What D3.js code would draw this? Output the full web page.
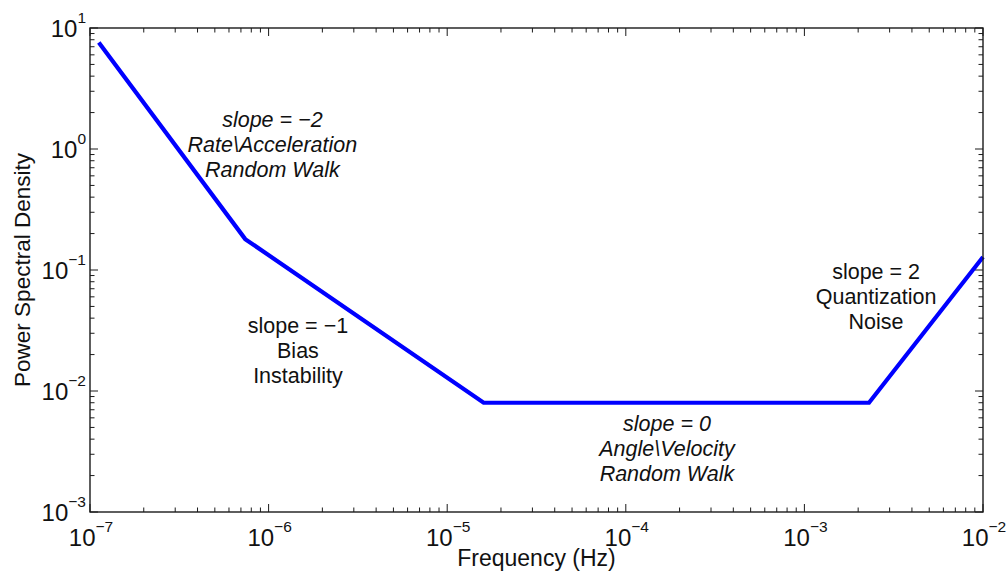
<!DOCTYPE html>
<html>
<head>
<meta charset="utf-8">
<script src="https://cdn.jsdelivr.net/npm/d3@7"></script>
<style>
  html, body { margin: 0; padding: 0; background: #fff; }
  svg { display: block; font-family: "Liberation Sans", Arial, Helvetica, sans-serif; }
</style>
</head>
<body>
<svg id="chart" width="1008" height="574"></svg>
<script>
// Piecewise Allan-style noise PSD (log-log corner points)
const freq = [1.12e-7, 7.4e-7, 1.6e-5, 2.3e-3, 1e-2];
const psd  = [7.6, 0.18, 0.008, 0.008, 0.128];

// Axis decades
const xTickExps = [-7, -6, -5, -4, -3, -2];
const yTickExps = [-3, -2, -1, 0, 1];

// Region annotations: anchor (first line baseline, centred) in data units
const noteFreq   = [1.05e-6, 1.46e-6, 1.70e-4, 2.52e-3];
const notePsd    = [1.52, 0.0301, 0.00467, 0.0844];
const noteItalic = [true, false, true, false];
const noteLines  = [
  ["slope = \u22122", "Rate\\Acceleration", "Random Walk"],
  ["slope = \u22121", "Bias", "Instability"],
  ["slope = 0", "Angle\\Velocity", "Random Walk"],
  ["slope = 2", "Quantization", "Noise"]
];

const svg = d3.select("#chart");
const margin = { left: 90, right: 25, top: 28, bottom: 62 };
const W = 1008, H = 574;
const x = d3.scaleLog().domain([1e-7, 1e-2]).range([margin.left, W - margin.right]);
const y = d3.scaleLog().domain([1e-3, 1e1]).range([H - margin.bottom, margin.top]);
const [x0, x1] = x.range();
const [y0, y1] = y.range();

// Tick positions: majors at decades, minors at 2..9 within each decade
const majorX = xTickExps.map(e => Math.pow(10, e));
const majorY = yTickExps.map(e => Math.pow(10, e));
function minors(exps) {
  const out = [];
  for (let i = 0; i < exps.length - 1; i++)
    for (let k = 2; k <= 9; k++) out.push(k * Math.pow(10, exps[i]));
  return out;
}
const minorX = minors(xTickExps);
const minorY = minors(yTickExps);

const majLen = 8, minLen = 4.5;
const tickG = svg.append("g").attr("stroke", "#1a1a1a").attr("stroke-width", 1);

// inward ticks on bottom and top
[[majorX, majLen], [minorX, minLen]].forEach(([vals, len]) => {
  tickG.selectAll(null).data(vals).enter().append("line")
    .attr("x1", d => x(d)).attr("x2", d => x(d))
    .attr("y1", y0).attr("y2", y0 - len);
  tickG.selectAll(null).data(vals).enter().append("line")
    .attr("x1", d => x(d)).attr("x2", d => x(d))
    .attr("y1", y1).attr("y2", y1 + len);
});
// inward ticks on left and right
[[majorY, majLen], [minorY, minLen]].forEach(([vals, len]) => {
  tickG.selectAll(null).data(vals).enter().append("line")
    .attr("y1", d => y(d)).attr("y2", d => y(d))
    .attr("x1", x0).attr("x2", x0 + len);
  tickG.selectAll(null).data(vals).enter().append("line")
    .attr("y1", d => y(d)).attr("y2", d => y(d))
    .attr("x1", x1).attr("x2", x1 - len);
});

// Data line
const line = d3.line().x((d, i) => x(freq[i])).y((d, i) => y(psd[i]));
svg.append("path")
  .datum(freq)
  .attr("d", line)
  .attr("fill", "none")
  .attr("stroke", "#0000ff")
  .attr("stroke-width", 4.2)
  .attr("stroke-linejoin", "miter");

// Frame
svg.append("rect")
  .attr("x", x0).attr("y", y1)
  .attr("width", x1 - x0).attr("height", y0 - y1)
  .attr("fill", "none").attr("stroke", "#1a1a1a").attr("stroke-width", 1.4);

// Tick labels as 10^n
const baseSize = 24, supSize = 15.5;
function powLabel(g, e) {
  const t = g.append("text").attr("fill", "#111");
  t.append("tspan").attr("font-size", baseSize).text("10");
  t.append("tspan").attr("font-size", supSize).attr("dy", -14)
    .text(e < 0 ? "\u2212" + Math.abs(e) : String(e));
  return t;
}
xTickExps.forEach(e => {
  const g = svg.append("g");
  const t = powLabel(g, e).attr("y", y0 + 34);
  const w = t.node().getComputedTextLength();
  t.attr("x", x(Math.pow(10, e)) - w / 2 + 1);
});
yTickExps.forEach(e => {
  const g = svg.append("g");
  const t = powLabel(g, e).attr("y", y(Math.pow(10, e)) + 9);
  const w = t.node().getComputedTextLength();
  t.attr("x", x0 - 4 - w);
});

// Axis titles
svg.append("text")
  .attr("x", (x0 + x1) / 2).attr("y", H - 8)
  .attr("text-anchor", "middle").attr("font-size", 23).attr("fill", "#111")
  .text("Frequency (Hz)");
svg.append("text")
  .attr("transform", `translate(30,${(y0 + y1) / 2}) rotate(-90)`)
  .attr("text-anchor", "middle").attr("font-size", 22.5).attr("fill", "#111")
  .text("Power Spectral Density");

// Region annotations
noteLines.forEach((lines, i) => {
  const t = svg.append("text")
    .attr("text-anchor", "middle")
    .attr("font-size", 21.5)
    .attr("fill", "#111")
    .attr("font-style", noteItalic[i] ? "italic" : "normal");
  lines.forEach((s, j) => {
    t.append("tspan")
      .attr("x", x(noteFreq[i]))
      .attr("y", y(notePsd[i]) + j * 25)
      .text(s);
  });
});
</script>
</body>
</html>
